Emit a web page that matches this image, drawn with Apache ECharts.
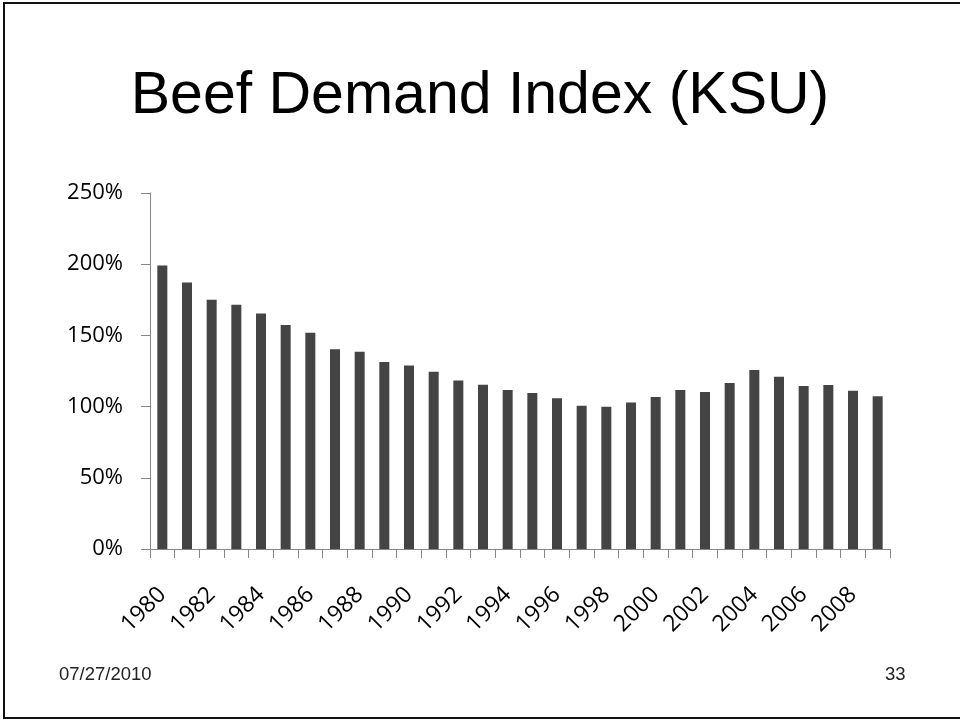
<!DOCTYPE html>
<html>
<head>
<meta charset="utf-8">
<script src="https://cdn.jsdelivr.net/npm/echarts@6/dist/echarts.min.js"></script>
<style>
  html, body { margin: 0; padding: 0; background: #fff; }
  #chart { width: 960px; height: 721px; }
</style>
</head>
<body>
<div id="chart"></div>
<script>
// years along the x axis
const years = [];
for (let y = 1980; y <= 2009; y++) years.push(String(y));

// demand index, percent
const demandIndex = [
  199, 187.2, 175.1, 171.6, 165.3, 157.3, 151.9, 140.2, 138.5, 131.3,
  128.9, 124.5, 118.4, 115.4, 111.6, 109.5, 105.8, 100.6, 99.9, 102.9,
  106.7, 111.6, 110.2, 116.6, 125.7, 121, 114.5, 115.1, 111.2, 107.2
];

const yTicks = [0, 50, 100, 150, 200, 250];

const chart = echarts.init(document.getElementById("chart"), null, { renderer: "canvas" });

chart.setOption({
  animation: false,
  backgroundColor: "#ffffff",
  title: {
    text: "Beef Demand Index (KSU)",
    left: "center",
    top: 62,
    textStyle: {
      fontFamily: "Liberation Sans",
      fontSize: 59,
      fontWeight: "normal",
      color: "#000"
    }
  },
  graphic: [
    {
      type: "rect",
      shape: { x: 4, y: 3, width: 980, height: 715 },
      style: { fill: "none", stroke: "#111", lineWidth: 2 },
      silent: true
    },
    {
      type: "text",
      left: 59,
      top: 665,
      style: { text: "07/27/2010", fontFamily: "Liberation Sans", fontSize: 18.5, fill: "#222" }
    },
    {
      type: "text",
      left: 885,
      top: 665,
      style: { text: "33", fontFamily: "Liberation Sans", fontSize: 18.5, fill: "#222" }
    }
  ],
  grid: { left: 150, right: 70, top: 193, bottom: 172, containLabel: false },
  xAxis: {
    type: "category",
    data: years,
    boundaryGap: true,
    axisLine: { lineStyle: { color: "#868686", width: 1 } },
    axisTick: { show: true, alignWithLabel: false, interval: 0, length: 9, lineStyle: { color: "#868686" } },
    axisLabel: {
      interval: 1,
      rotate: 45,
      margin: 42,
      fontFamily: "Open Sans",
      fontSize: 23,
      color: "#000"
    },
    splitLine: { show: false }
  },
  yAxis: {
    type: "value",
    min: yTicks[0],
    max: yTicks[yTicks.length - 1],
    interval: 50,
    axisLine: { show: true, lineStyle: { color: "#868686", width: 1 } },
    axisTick: { show: true, length: 9, lineStyle: { color: "#868686" } },
    axisLabel: {
      margin: 27,
      fontFamily: "Open Sans",
      fontSize: 22,
      color: "#000",
      formatter: (v) => v + "%"
    },
    splitLine: { show: false }
  },
  series: [
    {
      type: "bar",
      data: demandIndex,
      barWidth: 10,
      itemStyle: { color: "#444444" }
    }
  ]
});
</script>
</body>
</html>
